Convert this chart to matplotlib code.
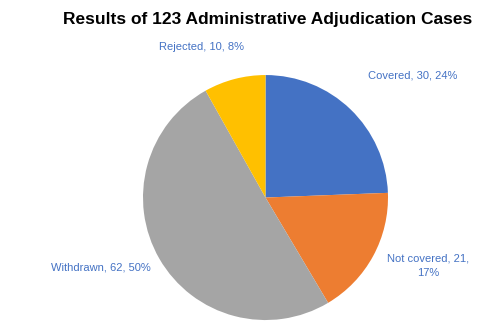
import matplotlib
matplotlib.use("Agg")
import matplotlib.pyplot as plt

# case outcomes
categories = ["Covered", "Not covered", "Withdrawn", "Rejected"]
counts = [30, 21, 62, 10]
percents = [24, 17, 50, 8]
colors = ["#4472C4", "#ED7D31", "#A5A5A5", "#FFC000"]

plt.rcParams['font.family'] = ['Liberation Sans', 'DejaVu Sans']

fig = plt.figure(figsize=(5, 3.32), dpi=100)
ax = fig.add_axes([0.286, 0.036, 0.49, 0.738])
ax.pie(counts, colors=colors, startangle=90, counterclock=False,
       wedgeprops=dict(linewidth=0))
ax.set_aspect("equal")
ax.set_xlim(-1.0, 1.0)
ax.set_ylim(-1.0, 1.0)

# label positions around the pie (data units)
label_pos = [(1.2, 1.0), (1.33, -0.555), (-1.34, -0.57), (-0.52, 1.225)]
label_col = "#4472C4"
for name, n, p, (x, y) in zip(categories, counts, percents, label_pos):
    txt = "{}, {}, {}%".format(name, n, p)
    if name == "Not covered":
        txt = "{}, {},\n{}%".format(name, n, p)
    ax.text(x, y, txt, ha="center", va="center", fontsize=8,
            color=label_col, linespacing=1.5, clip_on=False)

fig.text(0.536, 0.94, "Results of 123 Administrative Adjudication Cases",
         ha="center", va="center", fontsize=12.5, fontweight="bold")

fig.savefig("out.png", dpi=100, facecolor="white")
